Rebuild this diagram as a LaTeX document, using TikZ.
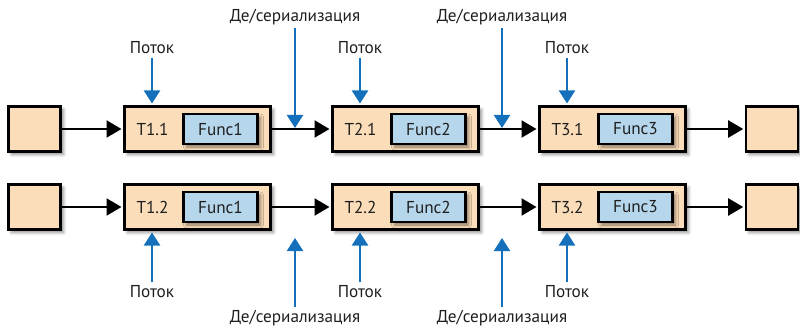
\documentclass[tikz,border=0pt]{standalone}
\usepackage{fontspec}
\setmainfont{PT Sans}
\usetikzlibrary{arrows.meta,shadows.blur}

\definecolor{peach}{RGB}{251,221,185}
\definecolor{funcblue}{RGB}{182,214,236}
\definecolor{arrowblue}{RGB}{20,112,187}

\tikzset{
	boxshadow/.style={blur shadow={shadow xshift=3pt, shadow yshift=-3pt, shadow blur radius=3pt, shadow opacity=45}},
	smallbox/.style={draw, line width=2.6pt, fill=peach, minimum width=52pt, minimum height=45pt, boxshadow},
	task/.style={draw, line width=3pt, fill=peach, minimum width=146pt, minimum height=45pt, boxshadow},
	func/.style={draw, line width=2.6pt, fill=funcblue, minimum width=74pt, minimum height=30pt, inner sep=0pt, boxshadow},
	flow/.style={line width=2.2pt, -{Triangle[length=15pt,width=17pt]}, shorten >=1.5pt},
	thread/.style={arrowblue, line width=2.2pt, -{Triangle[length=13pt,width=16pt]}, shorten >=1.5pt}
}

\begin{document}
\begin{tikzpicture}[x=1pt, y=-1pt, font=\fontsize{17.2}{20}\selectfont, text=black!88]
	\useasboundingbox (0,0) rectangle (800,331);
	% input and output boxes
	\foreach \r/\y in {1/129,2/207}{
		\node[smallbox] (in\r) at (34.5,\y) {};
		\node[smallbox] (out\r) at (772,\y) {};
	}
	% tasks with their functions
	\foreach \s/\x in {1/197.5,2/405.5,3/612.5}
	\foreach \r/\y in {1/129,2/207}{
		\node[task] (t\s\r) at (\x,\y) {};
		\node (tl\s\r) at ([xshift=-45pt]t\s\r.center) {T\s.\r};
		\node[func] (f\s\r) at ([xshift=23pt]t\s\r.center) {Func\s};
	}
	% data flow
	\foreach \r in {1,2}{
		\draw[flow] (in\r) -- (t1\r);
		\draw[flow] (t1\r) -- (t2\r);
		\draw[flow] (t2\r) -- (t3\r);
		\draw[flow] (t3\r) -- (out\r);
	}
	% threads
	\foreach \s/\x in {1/152,2/360,3/567}{
		\node (pa\s) at (\x,48) {Поток};
		\draw[thread] (pa\s) -- (pa\s |- t\s1.north);
		\node (pb\s) at (\x,292) {Поток};
		\draw[thread] (pb\s) -- (pb\s |- t\s2.south);
	}
	% de/serialization
	\foreach \k/\x in {1/295,2/502}{
		\node (da\k) at (\x,17) {Де/сериализация};
		\draw[thread, shorten >=1pt] (da\k) -- (da\k |- t11.east);
		\node (db\k) at (\x,318) {Де/сериализация};
		\coordinate (dc\k) at (\x,238);
		\draw[thread, shorten >=0pt] (db\k) -- (dc\k);
	}
\end{tikzpicture}
\end{document}
